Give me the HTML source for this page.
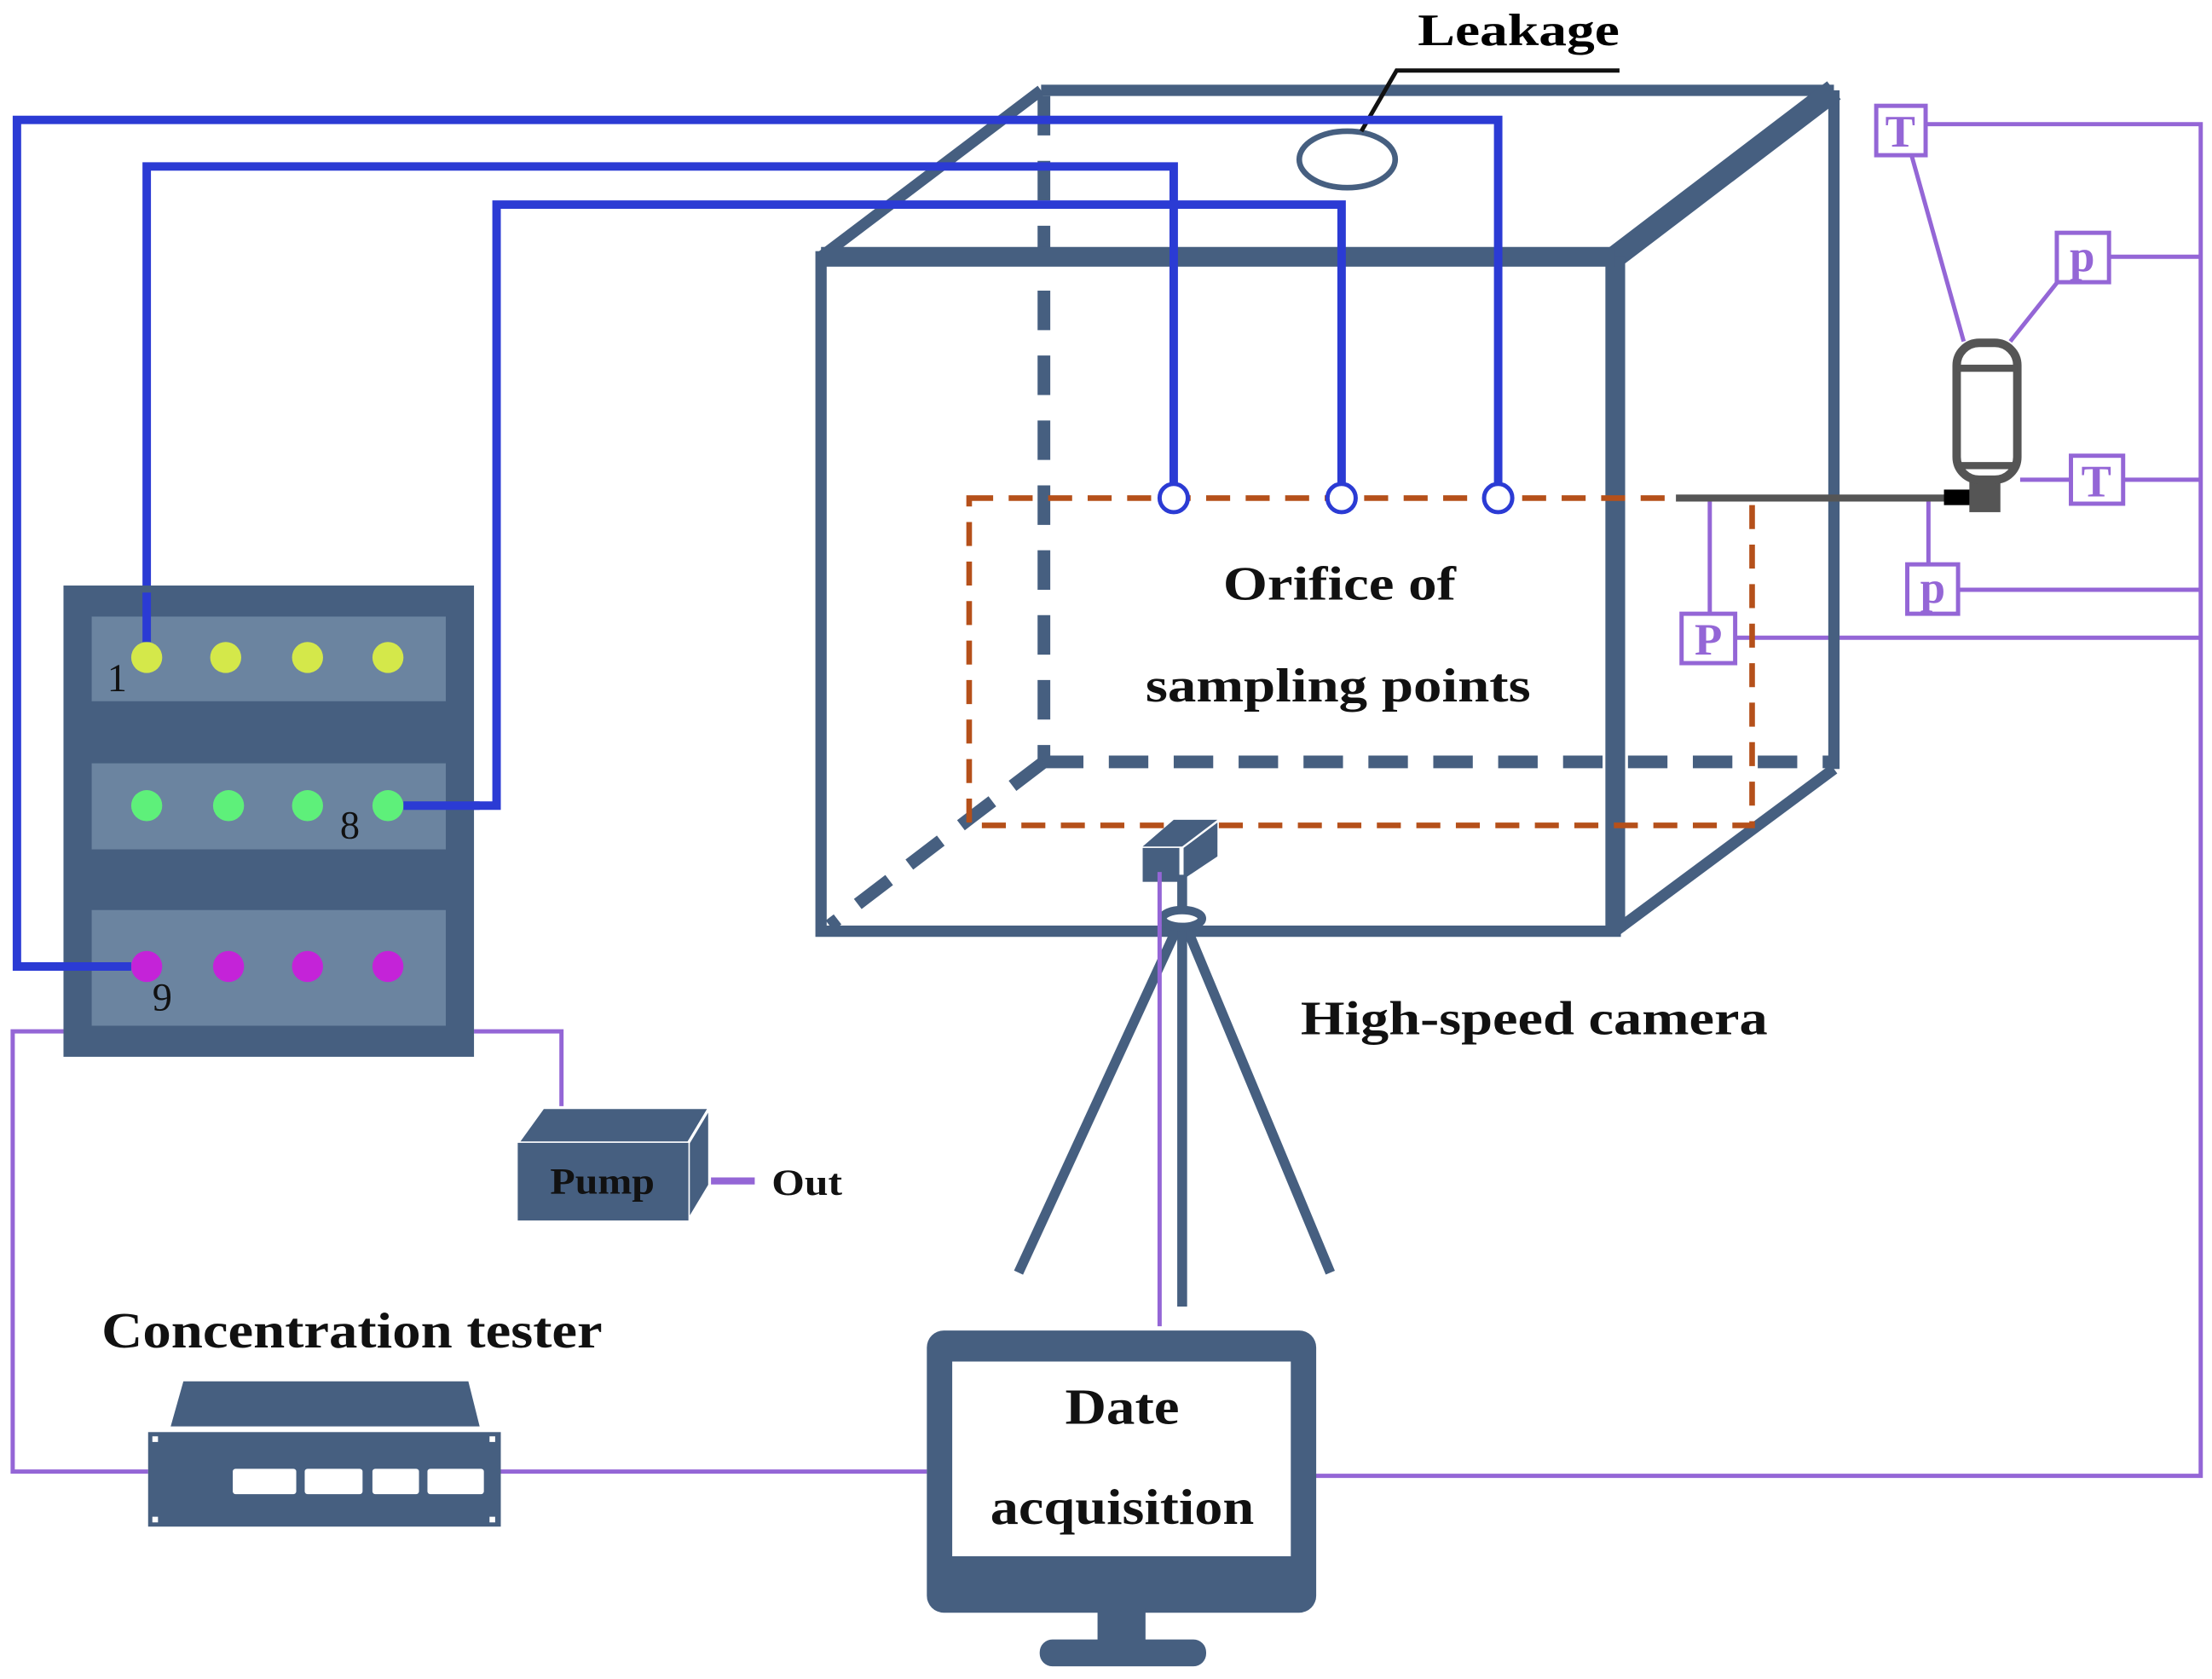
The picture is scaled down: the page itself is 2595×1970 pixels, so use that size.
<!DOCTYPE html>
<html><head><meta charset="utf-8"><style>html,body{margin:0;padding:0;background:#fff}svg{display:block}</style></head>
<body>
<svg width="2595" height="1970" viewBox="0 0 1568 1190" preserveAspectRatio="none" xmlns="http://www.w3.org/2000/svg" font-family="Liberation Serif, serif">
<g fill="none" stroke="#9466d6" stroke-width="3">
<polyline points="1365,88 1560,88 1560,1046 932,1046"/>
<line x1="1495" y1="182" x2="1560" y2="182"/>
<line x1="1505" y1="340" x2="1560" y2="340"/>
<line x1="1388" y1="418" x2="1560" y2="418"/>
<line x1="1230" y1="452" x2="1560" y2="452"/>
<line x1="1212" y1="355" x2="1212" y2="435"/>
<line x1="1367" y1="355" x2="1367" y2="400"/>
<line x1="1355" y1="110" x2="1392" y2="242"/>
<line x1="1460" y1="198" x2="1425" y2="242"/>
<line x1="1432" y1="340" x2="1468" y2="340"/>
<line x1="355" y1="1043" x2="657" y2="1043"/>
<polyline points="45,731 9,731 9,1043 105,1043"/>
<polyline points="336,731 398,731 398,786"/>
<line x1="495" y1="837" x2="535" y2="837" stroke-width="5"/>
<rect x="1330" y="75" width="35" height="35" fill="#fff"/>
<rect x="1458" y="165" width="37" height="35" fill="#fff"/>
<rect x="1468" y="323" width="37" height="34" fill="#fff"/>
<rect x="1352" y="400" width="36" height="35" fill="#fff"/>
<rect x="1192" y="435" width="38" height="35" fill="#fff"/>
</g>
<g fill="#9466d6" font-size="32" font-weight="bold" text-anchor="middle">
<text x="1347" y="104">T</text><text x="1476" y="192">p</text><text x="1486" y="352">T</text><text x="1370" y="427">p</text><text x="1211" y="464">P</text>
</g>
<!-- box -->
<g fill="none" stroke="#465f80" stroke-width="9" stroke-dasharray="28,18">
<line x1="740" y1="68" x2="740" y2="540"/>
<line x1="740" y1="540" x2="1300" y2="540"/>
<line x1="740" y1="540" x2="588" y2="656"/>
</g>
<g fill="none" stroke="#465f80" stroke-width="8">
<rect x="582" y="182" width="563" height="478"/>
<line x1="582" y1="182" x2="738" y2="64"/>
<line x1="738" y1="64" x2="1300" y2="64"/>
<line x1="1300" y1="64" x2="1300" y2="545"/>
<line x1="1300" y1="545" x2="1145" y2="660"/>
</g>
<line x1="1145" y1="182" x2="1300" y2="64" stroke="#465f80" stroke-width="16"/>
<line x1="1145" y1="182" x2="1145" y2="660" stroke="#465f80" stroke-width="14"/>
<line x1="582" y1="182" x2="1145" y2="182" stroke="#465f80" stroke-width="14"/>
<rect x="687" y="353" width="555" height="232" fill="none" stroke="#b5501a" stroke-width="4" stroke-dasharray="17,11"/>
<!-- leakage -->
<ellipse cx="955" cy="113" rx="34" ry="20" fill="none" stroke="#465f80" stroke-width="4"/>
<polyline points="965,93 990,50 1148,50" fill="none" stroke="#111" stroke-width="3"/>
<text x="1005" y="32" font-size="32" font-weight="bold" textLength="143" lengthAdjust="spacingAndGlyphs">Leakage</text>
<!-- blue lines -->
<g fill="none" stroke="#2b3bd4" stroke-width="6">
<polyline points="104,685 12,685 12,85 1062,85 1062,342"/>
<polyline points="104,466 104,118 832,118 832,342"/>
<polyline points="275,571 352,571 352,145 951,145 951,342"/>
<g fill="#fff" stroke-width="3"><circle cx="832" cy="353" r="10"/><circle cx="951" cy="353" r="10"/><circle cx="1062" cy="353" r="10"/></g>
</g>
<g font-size="34" font-weight="bold" fill="#111">
<text x="867" y="425" textLength="165" lengthAdjust="spacingAndGlyphs">Orifice of</text>
<text x="812" y="497" textLength="273" lengthAdjust="spacingAndGlyphs">sampling points</text>
</g>
<!-- pipe + vessel -->
<line x1="1188" y1="353" x2="1380" y2="353" stroke="#555" stroke-width="5"/>
<rect x="1378" y="347" width="22" height="11" fill="#000"/>
<rect x="1396" y="340" width="22" height="23" fill="#555"/>
<rect x="1387" y="243" width="43" height="97" rx="16" fill="#fff" stroke="#555" stroke-width="6"/>
<line x1="1387" y1="261" x2="1430" y2="261" stroke="#555" stroke-width="5"/>
<line x1="1387" y1="330" x2="1430" y2="330" stroke="#555" stroke-width="5"/>
<!-- rack -->
<rect x="45" y="415" width="291" height="334" fill="#465f80"/>
<g fill="#6b84a0"><rect x="65" y="437" width="251" height="60"/><rect x="65" y="541" width="251" height="61"/><rect x="65" y="645" width="251" height="82"/></g>
<g fill="#d4e84a"><circle cx="104" cy="466" r="11"/><circle cx="160" cy="466" r="11"/><circle cx="218" cy="466" r="11"/><circle cx="275" cy="466" r="11"/></g>
<g fill="#5ef07a"><circle cx="104" cy="571" r="11"/><circle cx="162" cy="571" r="11"/><circle cx="218" cy="571" r="11"/><circle cx="275" cy="571" r="11"/></g>
<g fill="#c423d8"><circle cx="104" cy="685" r="11"/><circle cx="162" cy="685" r="11"/><circle cx="218" cy="685" r="11"/><circle cx="275" cy="685" r="11"/></g>
<line x1="93" y1="685" x2="40" y2="685" stroke="#2b3bd4" stroke-width="6"/>
<line x1="286" y1="571" x2="340" y2="571" stroke="#2b3bd4" stroke-width="6"/>
<line x1="104" y1="455" x2="104" y2="420" stroke="#2b3bd4" stroke-width="6"/>
<g font-size="28" fill="#111"><text x="76" y="490">1</text><text x="241" y="594">8</text><text x="108" y="716">9</text></g>
<!-- pump -->
<polygon points="367,810 385,785 503,785 488,810" fill="#465f80" stroke="#fff" stroke-width="2"/>
<polygon points="488,810 503,785 503,840 488,865" fill="#465f80" stroke="#fff" stroke-width="2"/>
<rect x="367" y="810" width="121" height="55" fill="#465f80"/>
<text x="390" y="846" font-size="26" font-weight="bold" fill="#111" textLength="74" lengthAdjust="spacingAndGlyphs">Pump</text>
<text x="547" y="847" font-size="26" font-weight="bold" fill="#111" textLength="50" lengthAdjust="spacingAndGlyphs">Out</text>
<!-- camera + tripod -->
<g stroke="#465f80" stroke-width="7" fill="none">
<line x1="838" y1="650" x2="722" y2="902"/>
<line x1="838" y1="650" x2="943" y2="902"/>
<line x1="838" y1="620" x2="838" y2="926"/>
<ellipse cx="838" cy="651" rx="14" ry="6" fill="#fff" stroke-width="6"/>
</g>
<polygon points="810,600 832,581 863,581 838,600" fill="#465f80"/>
<polygon points="839,601 863,583 863,607 839,623" fill="#465f80"/>
<rect x="810" y="601" width="26" height="24" fill="#465f80"/>
<line x1="822" y1="618" x2="822" y2="940" stroke="#9466d6" stroke-width="3"/>
<text x="922" y="733" font-size="34" font-weight="bold" fill="#111" textLength="331" lengthAdjust="spacingAndGlyphs">High-speed camera</text>
<!-- monitor -->
<rect x="657" y="943" width="276" height="200" rx="12" fill="#465f80"/>
<rect x="675" y="965" width="240" height="138" fill="#fff"/>
<rect x="778" y="1140" width="34" height="25" fill="#465f80"/>
<rect x="737" y="1162" width="118" height="19" rx="9" fill="#465f80"/>
<g font-size="36" font-weight="bold" fill="#111"><text x="755" y="1009" textLength="81" lengthAdjust="spacingAndGlyphs">Date</text><text x="702" y="1080" textLength="187" lengthAdjust="spacingAndGlyphs">acquisition</text></g>
<!-- concentration tester -->
<text x="72" y="955" font-size="36" font-weight="bold" fill="#111" textLength="355" lengthAdjust="spacingAndGlyphs">Concentration tester</text>
<polygon points="130,979 332,979 340,1011 121,1011" fill="#465f80"/>
<rect x="105" y="1015" width="250" height="67" fill="#465f80"/>
<g fill="#fff"><rect x="165" y="1041" width="45" height="18" rx="2"/><rect x="216" y="1041" width="41" height="18" rx="2"/><rect x="264" y="1041" width="33" height="18" rx="2"/><rect x="303" y="1041" width="40" height="18" rx="2"/>
<rect x="108" y="1018" width="4" height="4"/><rect x="347" y="1018" width="4" height="4"/><rect x="108" y="1075" width="4" height="4"/><rect x="347" y="1075" width="4" height="4"/></g>
</svg>
</body></html>
